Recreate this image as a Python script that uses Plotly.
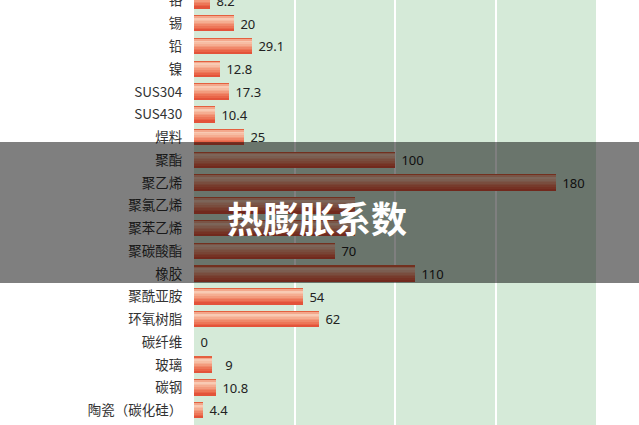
import plotly.graph_objects as go

# ---- data (top to bottom) ----
categories = ["铬", "锡", "铅", "镍", "SUS304", "SUS430", "焊料", "聚酯", "聚乙烯",
              "聚氯乙烯", "聚苯乙烯", "聚碳酸酯", "橡胶", "聚酰亚胺", "环氧树脂",
              "碳纤维", "玻璃", "碳钢", "陶瓷（碳化硅）"]
values = [8.2, 20, 29.1, 12.8, 17.3, 10.4, 25, 100, 180,
          80, 80, 70, 110, 54, 62, 0, 9, 10.8, 4.4]
value_labels = ["8.2", "20", "29.1", "12.8", "17.3", "10.4", "25", "100", "180",
                "", "", "70", "110", "54", "62", "0", "  9", "10.8", "4.4"]
title_text = "热膨胀系数"

W, H = 639, 425
ML, MR = 194, 43
plot_w = W - ML - MR

fig = go.Figure()

BAR_W = 0.70
# base bar carrying the value labels
fig.add_trace(go.Bar(
    y=categories, x=values, orientation="h",
    width=BAR_W, offset=-BAR_W / 2,
    marker=dict(color="#e85a3a", line=dict(width=0)),
    text=[" " + t if t else "" for t in value_labels],
    textposition="outside", constraintext="none", cliponaxis=False,
    textfont=dict(family="Noto Sans, Noto Sans CJK SC", size=13, color="#222222"),
    hoverinfo="skip", showlegend=False,
))

# gradient bands (top -> bottom)
bands = [
    (0.07, "#e4603f"),
    (0.10, "#f3a88c"),
    (0.12, "#f9cab3"),
    (0.10, "#f7bda3"),
    (0.10, "#f5ad91"),
    (0.10, "#f39b7d"),
    (0.10, "#f0886a"),
    (0.10, "#ed7658"),
    (0.10, "#ea6548"),
    (0.11, "#e3533a"),
]
start = -BAR_W / 2
for frac, col in bands:
    w = frac * BAR_W
    fig.add_trace(go.Bar(
        y=categories, x=values, orientation="h",
        width=w, offset=start,
        marker=dict(color=col, line=dict(width=0)),
        hoverinfo="skip", showlegend=False,
    ))
    start += w

top_row_px = -0.76
px_per = 22.76
y_top = 0 + top_row_px / px_per          # value at top edge of plot
y_bot = y_top + H / px_per               # value at bottom edge

fig.update_layout(
    width=W, height=H,
    margin=dict(l=ML, r=MR, t=0, b=0, autoexpand=False),
    paper_bgcolor="white",
    plot_bgcolor="#d5ead8",
    barmode="overlay",
    bargap=0,
    xaxis=dict(range=[0, 200], dtick=50, showticklabels=False, automargin=False,
               showgrid=True, gridcolor="white", gridwidth=1.5,
               zeroline=False, showline=False, fixedrange=True),
    yaxis=dict(type="category", categoryorder="array", categoryarray=categories,
               range=[y_bot, y_top], showgrid=False, zeroline=False, showline=False,
               automargin=False,
               ticks="outside", ticklen=8, tickcolor="rgba(0,0,0,0)",
               tickfont=dict(family="Noto Sans CJK SC", size=13.5, color="#333333")),
    font=dict(family="Noto Sans CJK SC"),
)

# dark translucent band across the whole picture
fig.add_shape(type="rect", xref="paper", yref="paper",
              x0=-ML / plot_w, x1=(W - ML) / plot_w,
              y0=1 - 283 / H, y1=1 - 142 / H,
              fillcolor="rgba(0,0,0,0.5)", line=dict(width=0), layer="above")

fig.add_annotation(text="<b>" + title_text + "</b>", xref="paper", yref="paper",
                   x=(316.5 - ML) / plot_w, y=1 - 217.5 / H,
                   xanchor="center", yanchor="middle", showarrow=False,
                   font=dict(family="Noto Sans CJK SC", size=36, color="white"))

fig.write_html("out.html", config={"displayModeBar": False},
               post_script="document.body.style.margin='0';document.body.style.overflow='hidden';")
